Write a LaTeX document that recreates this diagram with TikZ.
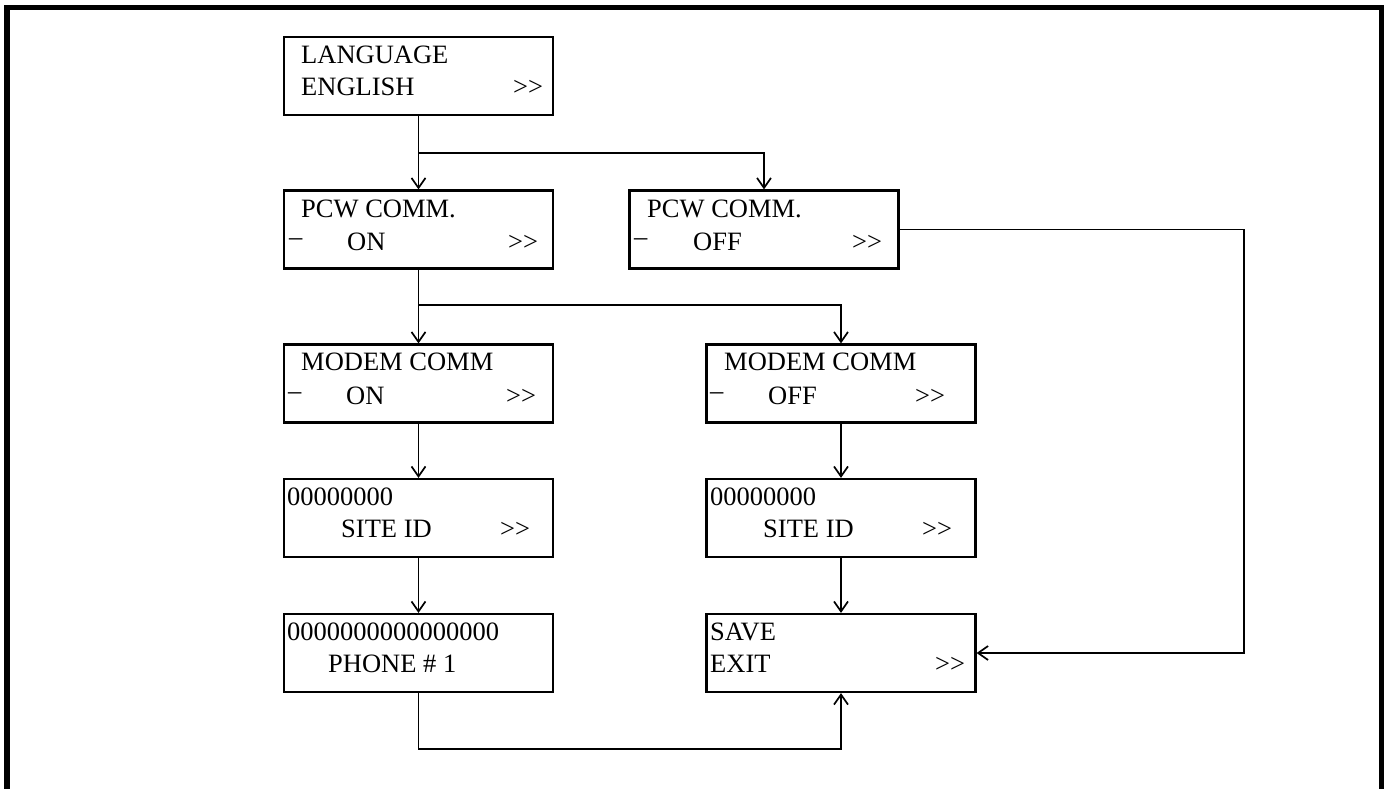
\documentclass[tikz,border=0pt]{standalone}
\usepackage{fontspec}
\setmainfont{Liberation Serif}
\usetikzlibrary{arrows.meta,positioning}
\begin{document}
\begin{tikzpicture}[x=1pt,y=-1pt,
  menubox/.style={draw, line width=2.2pt, minimum width=269pt, minimum height=78pt, inner sep=0pt},
  txt/.style={anchor=base west, inner sep=0pt, font=\fontsize{26.5}{30}\selectfont},
  conn/.style={line width=1.7pt},
  arr/.style={conn, -{Straight Barb[length=10pt,width=14pt]}},
  frameline/.style={line width=5.5pt, line join=miter}]
\useasboundingbox (0,0) rectangle (1386,788);
\draw[frameline] (7,800) -- (7,7.5) -- (1381.5,7.5) -- (1381.5,800);
% boxes
\node[menubox] (lang)   at (418.5,76) {};
\node[menubox] (pcwon)  at (418.5,229.5) {};
\node[menubox] (pcwoff) at (764,229.5) {};
\node[menubox] (modon)  at (418.5,383.5) {};
\node[menubox] (modoff) at (841,383.5) {};
\node[menubox] (siteL)  at (418.5,518) {};
\node[menubox] (siteR)  at (841,518) {};
\node[menubox] (phone)  at (418.5,653) {};
\node[menubox] (save)   at (841,653) {};
% texts
\node[txt] (l1) at (301,63) {LANGUAGE};
\node[txt] (l2) at (301,95) {ENGLISH};
\node[txt] (l3) at (513,95) {>{}>};
\node[txt] (p1) at (301,217) {PCW COMM.};
\node[txt] (p2) at (289,245) {–};
\node[txt] (p3) at (347,250) {ON};
\node[txt] (p4) at (508,250) {>{}>};
\node[txt] (q1) at (647,217) {PCW COMM.};
\node[txt] (q2) at (634,245) {–};
\node[txt] (q3) at (693,250) {OFF};
\node[txt] (q4) at (852,250) {>{}>};
\node[txt] (m1) at (301,370) {MODEM COMM};
\node[txt] (m2) at (288,399) {–};
\node[txt] (m3) at (346,404) {ON};
\node[txt] (m4) at (506,404) {>{}>};
\node[txt] (n1) at (724,370) {MODEM COMM};
\node[txt] (n2) at (710,399) {–};
\node[txt] (n3) at (768,404) {OFF};
\node[txt] (n4) at (915,404) {>{}>};
\node[txt] (s1) at (287,505) {00000000};
\node[txt] (s2) at (341,537) {SITE ID};
\node[txt] (s3) at (500,537) {>{}>};
\node[txt] (r1) at (710,505) {00000000};
\node[txt] (r2) at (763,537) {SITE ID};
\node[txt] (r3) at (922,537) {>{}>};
\node[txt] (h1) at (287,640) {0000000000000000};
\node[txt] (h2) at (328,672) {PHONE \# 1};
\node[txt] (v1) at (710,640) {SAVE};
\node[txt] (v2) at (710,672) {EXIT};
\node[txt] (v3) at (935,672) {>{}>};
% connectors
\coordinate (b1) at (418.5,153);
\coordinate (b2) at (418.5,305);
\coordinate (c1) at (1244,229.5);
\coordinate (d1) at (418.5,749);
\draw[arr] (lang.south) -- (pcwon.north);
\draw[arr] (b1) -| (pcwoff.north);
\draw[arr] (pcwon.south) -- (modon.north);
\draw[arr] (b2) -| (modoff.north);
\draw[arr] (modon.south) -- (siteL.north);
\draw[arr] (siteL.south) -- (phone.north);
\draw[arr] (modoff.south) -- (siteR.north);
\draw[arr] (siteR.south) -- (save.north);
\draw[arr] (pcwoff.east) -- (c1) |- (save.east);
\draw[arr] (phone.south) -- (d1) -| (save.south);
\end{tikzpicture}
\end{document}
